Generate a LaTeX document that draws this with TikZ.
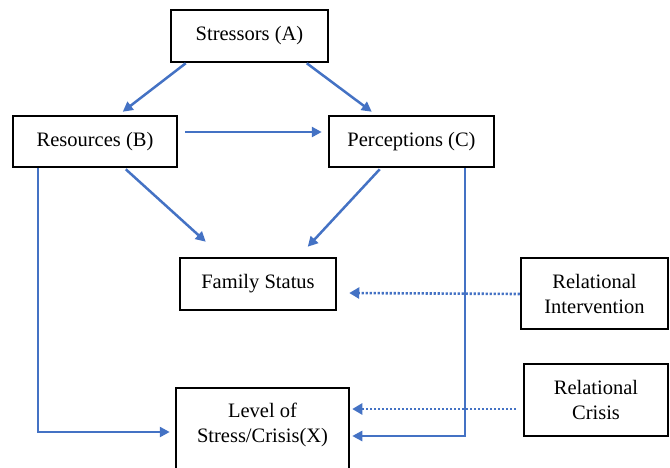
\documentclass[tikz,border=0pt]{standalone}
\usepackage{fontspec}
\setmainfont{Liberation Serif}
\usetikzlibrary{arrows.meta,calc}
\definecolor{arrowblue}{HTML}{4472C4}
\tikzset{
  box/.style={draw=black, line width=2.5pt, rectangle, inner sep=0pt, align=center,
    font=\fontsize{20.5}{25}\selectfont},
  flow/.style={draw=arrowblue, line width=2.5pt, -{Triangle[length=10pt,width=10pt]}},
  dotflow/.style={draw=arrowblue, line width=2.6pt, dash pattern=on 2.2pt off 1.8pt,
    -{Triangle[length=10pt,width=11pt]}},
  plain/.style={font=\fontsize{20.5}{25}\selectfont, align=center, inner sep=0pt}
}
\begin{document}
\begin{tikzpicture}[x=1pt,y=-1pt]
\useasboundingbox (0,0) rectangle (670,467);
\node[box, minimum width=157pt, minimum height=52pt] (A) at (249.5,36) {Stressors (A)};
\node[box, minimum width=164pt, minimum height=51pt] (B) at (95,141.5) {Resources (B)};
\node[box, minimum width=165pt, minimum height=51pt] (C) at (411.5,141.5) {Perceptions (C)};
\node[box, minimum width=156pt, minimum height=52pt] (F) at (258,284) {Family Status};
\node[box, minimum width=147pt, minimum height=71pt] (RI) at (594.5,293.5) {Relational\\Intervention};
\node[box, minimum width=144pt, minimum height=72pt] (RC) at (596,400) {Relational\\Crisis};
\node[box, minimum width=173pt, minimum height=112pt] (X) at (262.5,444) {};
\node[plain] (Xt) at (262.5,424.5) {Level of\\Stress/Crisis(X)};

\draw[flow] ([xshift=16pt]A.south west) -- ([xshift=111pt,yshift=3pt]B.north west);
\draw[flow] ([xshift=137pt]A.south west) -- ([xshift=44pt,yshift=3pt]C.north west);
\draw[flow] ([xshift=7pt,yshift=9.5pt]B.east) -- ([xshift=-6pt,yshift=9.5pt]C.west);
\draw[flow] ([xshift=114pt,yshift=-1pt]B.south west) -- ([xshift=27pt,yshift=15pt]F.north west);
\draw[flow] ([xshift=52pt,yshift=-1pt]C.south west) -- ([xshift=129pt,yshift=10pt]F.north west);
\draw[flow] ([xshift=26pt]B.south west) |- ([xshift=-5pt,yshift=12pt]X.west);
\draw[flow] ([xshift=137pt]C.south west) |- ([xshift=2pt,yshift=8pt]X.east);
\draw[dotflow] ([yshift=-0.5pt]RI.west) -- ([xshift=12pt,yshift=-9pt]F.east);
\draw[dotflow] ([xshift=-7pt,yshift=-9pt]RC.west) -- ([xshift=2pt,yshift=35pt]X.east);
\end{tikzpicture}
\end{document}
